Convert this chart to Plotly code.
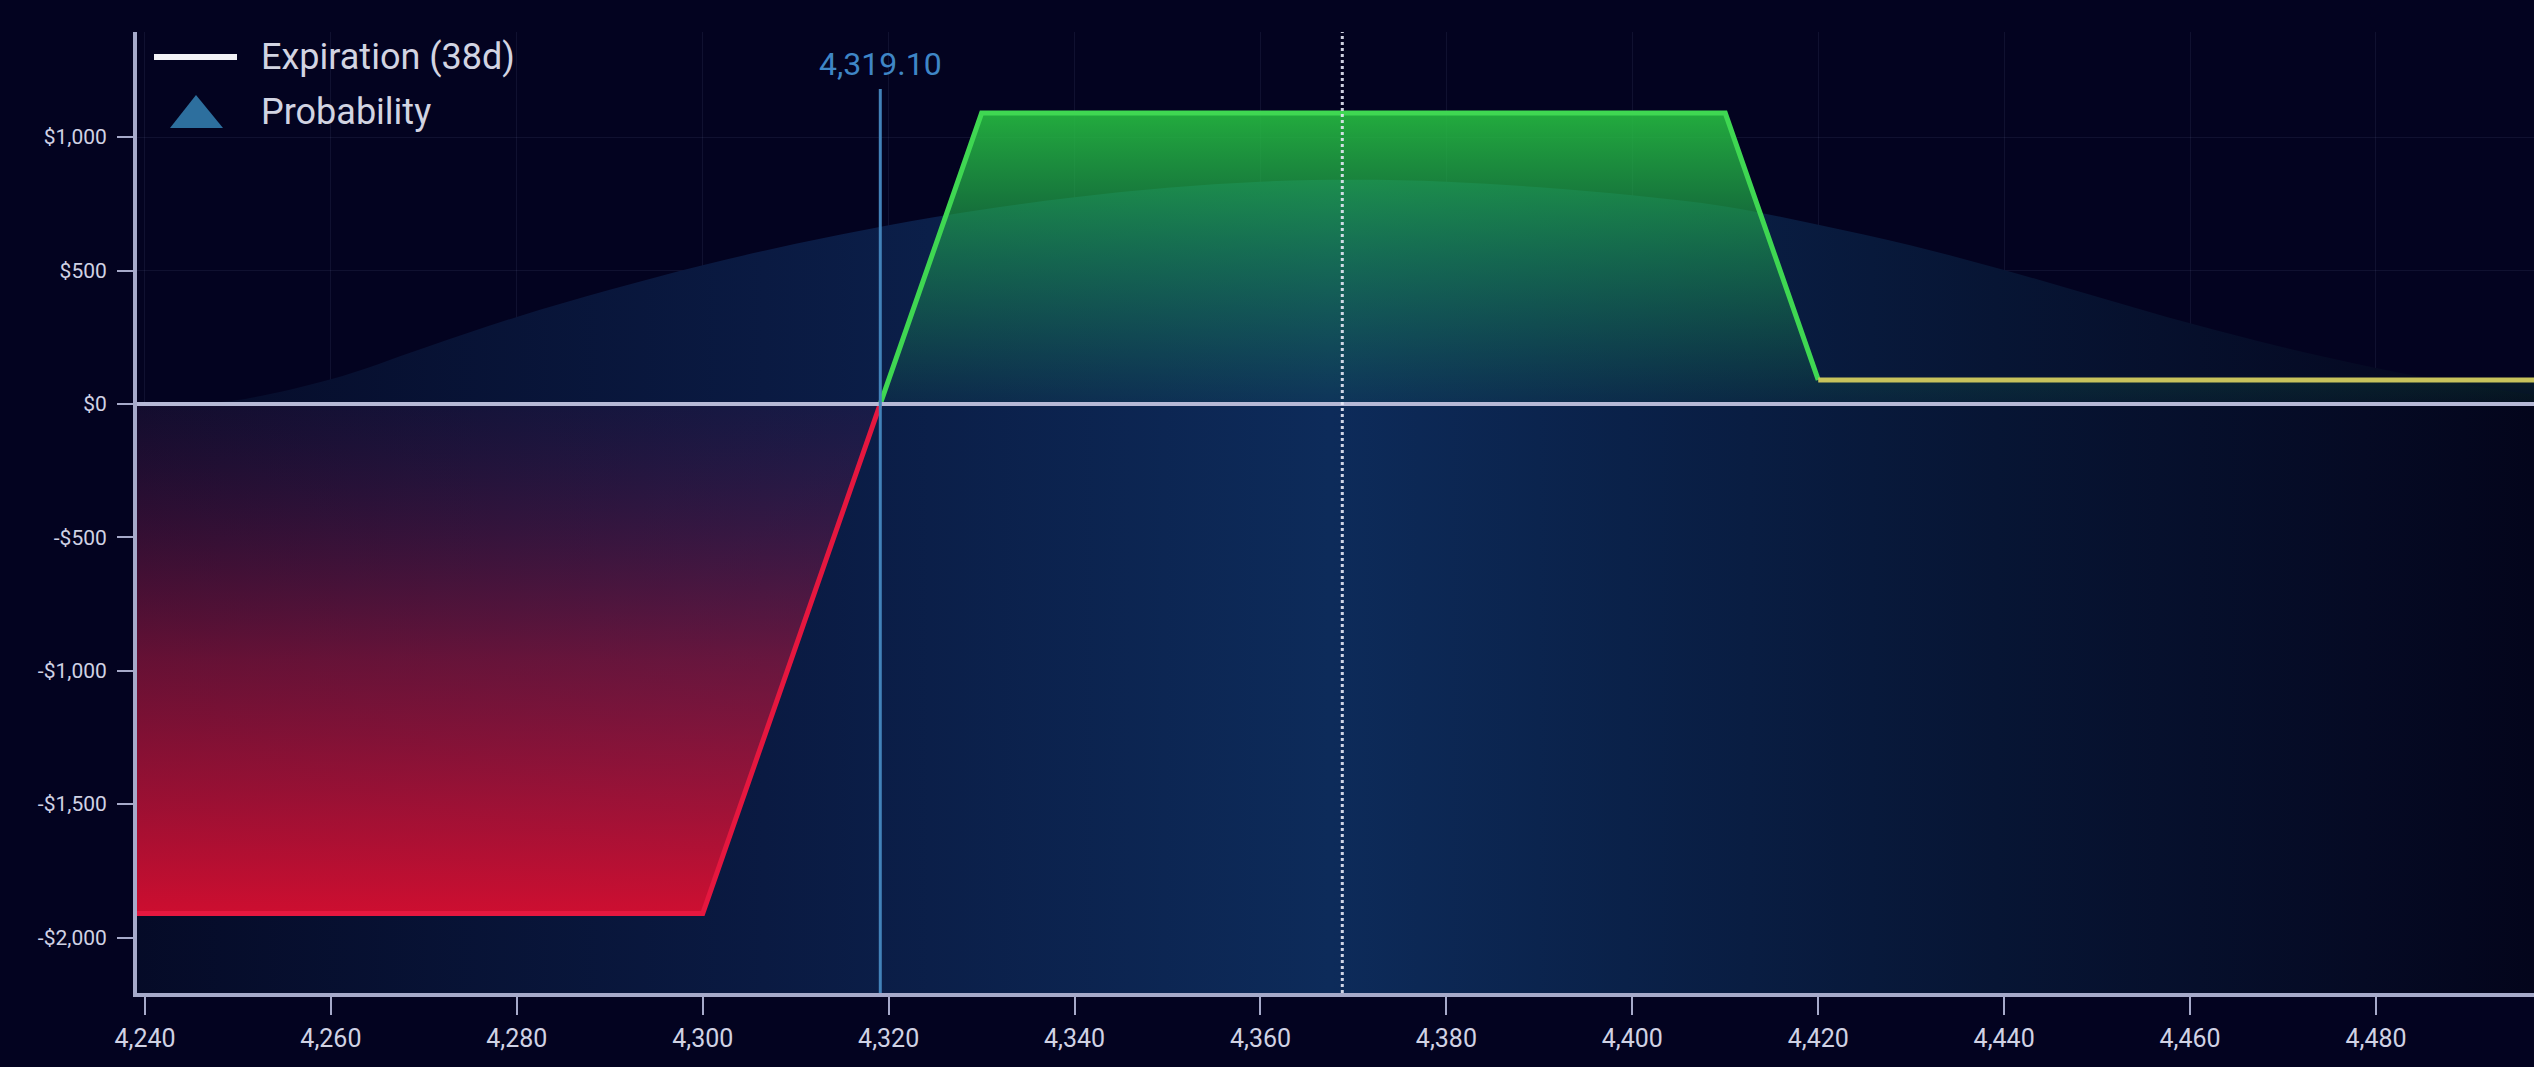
import plotly.graph_objects as go

# ---------------- data ----------------
PRICE = [4235, 4300, 4319.10, 4330, 4410, 4420, 4500]
PNL = [-1910, -1910, 0, 1090, 1090, 90, 90]

PROB_PRICE = [4235, 4245, 4250, 4260, 4270, 4280, 4290, 4300, 4310, 4320, 4330, 4340, 4350, 4360,
              4370, 4380, 4390, 4400, 4410, 4420, 4430, 4440, 4450, 4460, 4470, 4480, 4490, 4500]
PROB_VALUE = [0, 2, 15, 92, 210, 326, 428, 520, 600, 670, 728, 775, 810, 833,
              840, 833, 812, 782, 740, 672, 594, 502, 402, 302, 212, 135, 70, 20]

BREAKEVEN = 4319.10
BREAKEVEN_LABEL = "4,319.10"
CURRENT_PRICE = 4368.8

X_TICKS = [4240, 4260, 4280, 4300, 4320, 4340, 4360, 4380, 4400, 4420, 4440, 4460, 4480]
Y_TICKS = [-2000, -1500, -1000, -500, 0, 500, 1000]
Y_LABELS = ["-$2,000", "-$1,500", "-$1,000", "-$500", "$0", "$500", "$1,000"]

LEGEND_LABELS = ["Expiration (38d)", "Probability"]

# ---------------- layout constants ----------------
W, H = 2534, 1067
ML, MR, MT, MB = 137, 0, 32, 74
XRANGE = [4239.14, 4497.0]
YRANGE = [-2208, 1394]
PW, PH = W - ML - MR, H - MT - MB


def px_x(p):
    return (p - ML) / PW


def px_y(p):
    return (H - MB - p) / PH


BG = "#030320"
AXIS = "#a6aaca"
TICKFONT = "#d0d2e4"
FONT = "Roboto"

fig = go.Figure()

# probability distribution (area from bottom of plot up to curve)
fig.add_trace(go.Scatter(
    x=PROB_PRICE, y=[YRANGE[0]] * len(PROB_PRICE), mode="lines",
    line=dict(width=0), hoverinfo="skip", showlegend=False))
fig.add_trace(go.Scatter(
    x=PROB_PRICE, y=PROB_VALUE, mode="lines", line=dict(width=0, shape="spline", smoothing=1.0),
    fill="tonexty",
    fillgradient=dict(type="horizontal", colorscale=[
        [0.0, "#050a26"], [0.27, "#0a1a42"], [0.5, "#0d2b5a"], [0.62, "#0a2149"],
        [0.77, "#071534"], [0.92, "#050a24"], [1.0, "#03041a"]]),
    hoverinfo="skip", showlegend=False))

# loss fill
fig.add_trace(go.Scatter(
    x=PRICE[0:3], y=PNL[0:3], mode="lines", line=dict(width=0), fill="tozeroy",
    fillgradient=dict(type="vertical", colorscale=[
        [0.0, "rgba(218,14,48,0.94)"], [0.5, "rgba(160,20,60,0.62)"], [1.0, "rgba(80,20,75,0.18)"]]),
    hoverinfo="skip", showlegend=False))
# profit fill
fig.add_trace(go.Scatter(
    x=PRICE[2:], y=PNL[2:], mode="lines", line=dict(width=0), fill="tozeroy",
    fillgradient=dict(type="vertical", colorscale=[
        [0.0, "rgba(30,160,90,0.08)"], [0.5, "rgba(30,170,80,0.5)"], [1.0, "rgba(38,190,65,0.9)"]]),
    hoverinfo="skip", showlegend=False))

# payoff line segments
fig.add_trace(go.Scatter(x=PRICE[0:3], y=PNL[0:3], mode="lines",
                         line=dict(color="#e5173f", width=5), showlegend=False))
fig.add_trace(go.Scatter(x=PRICE[2:6], y=PNL[2:6], mode="lines",
                         line=dict(color="#3fd752", width=5), showlegend=False))
fig.add_trace(go.Scatter(x=PRICE[5:], y=PNL[5:], mode="lines",
                         line=dict(color="#c8c35c", width=5), showlegend=False))

shapes = [
    # zero line
    dict(type="line", xref="paper", yref="y", x0=0, x1=1, y0=0, y1=0,
         line=dict(color="#b6b9d6", width=4), layer="above"),
    # breakeven line
    dict(type="line", xref="x", yref="paper", x0=BREAKEVEN, x1=BREAKEVEN, y0=0, y1=px_y(89),
         line=dict(color="#4282b8", width=3), layer="above"),
    # current price dotted line
    dict(type="line", xref="x", yref="paper", x0=CURRENT_PRICE, x1=CURRENT_PRICE, y0=0, y1=1,
         line=dict(color="rgba(230,232,245,0.9)", width=3, dash="dot"), layer="above"),
    # legend: line icon
    dict(type="line", xref="paper", yref="paper", x0=px_x(154), x1=px_x(237), y0=px_y(57), y1=px_y(57),
         line=dict(color="#f2f2f6", width=6), layer="above"),
    # legend: triangle icon
    dict(type="path", xref="paper", yref="paper",
         path=f"M{px_x(196)},{px_y(95)} L{px_x(223)},{px_y(128)} L{px_x(170)},{px_y(128)} Z",
         fillcolor="#2d6f9e", line=dict(width=0), layer="above"),
]

annotations = [
    dict(x=BREAKEVEN, y=px_y(64), xref="x", yref="paper", text=BREAKEVEN_LABEL, showarrow=False,
         xanchor="center", yanchor="middle", font=dict(family=FONT, size=32, color="#3f86c6")),
    dict(x=px_x(259), y=px_y(57), xref="paper", yref="paper", text=LEGEND_LABELS[0], showarrow=False,
         xanchor="left", yanchor="middle", font=dict(family=FONT, size=36, color="#d2d4e2")),
    dict(x=px_x(259), y=px_y(112), xref="paper", yref="paper", text=LEGEND_LABELS[1], showarrow=False,
         xanchor="left", yanchor="middle", font=dict(family=FONT, size=36, color="#d2d4e2")),
]

fig.update_layout(
    width=W, height=H,
    margin=dict(l=ML, r=MR, t=MT, b=MB, pad=0),
    paper_bgcolor=BG, plot_bgcolor=BG,
    showlegend=False,
    shapes=shapes, annotations=annotations,
    xaxis=dict(range=XRANGE, tickvals=X_TICKS, tickformat=",", ticks="outside", ticklen=18,
               tickwidth=2, tickcolor=AXIS, showline=True, linecolor=AXIS, linewidth=4,
               showgrid=True, gridcolor="rgba(140,150,200,0.10)", gridwidth=1, zeroline=False,
               ticklabelstandoff=2,
               tickfont=dict(family=FONT, size=25, color=TICKFONT)),
    yaxis=dict(range=YRANGE, tickvals=Y_TICKS, ticktext=Y_LABELS, ticks="outside", ticklen=16,
               tickwidth=2, tickcolor=AXIS, showline=True, linecolor=AXIS, linewidth=4,
               showgrid=True, gridcolor="rgba(140,150,200,0.10)", gridwidth=1, zeroline=False,
               ticklabelstandoff=6,
               tickfont=dict(family=FONT, size=21, color=TICKFONT)),
)

fig.write_html("out.html", config={"displayModeBar": False},
               post_script="document.body.style.margin='0';document.body.style.overflow='hidden';")
